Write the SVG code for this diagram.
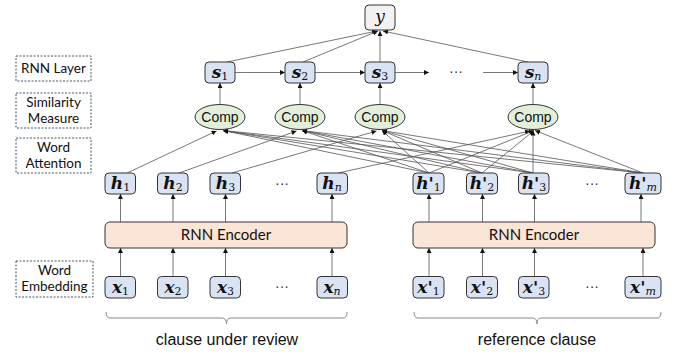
<svg xmlns="http://www.w3.org/2000/svg" width="678" height="354" viewBox="0 0 678 354">
  <defs>
    <marker id="ah" viewBox="0 0 6 6" refX="6" refY="3" markerWidth="5" markerHeight="5" markerUnits="userSpaceOnUse" orient="auto">
      <path d="M0,0 L6,3 L0,6 z" fill="#111"/>
    </marker>
    <style>
      .vec { fill: #dae3f3; stroke: #333; stroke-width: 1; }
      .out { fill: #f2f2f2; stroke: #333; stroke-width: 1; }
      .cmp { fill: #e2efd9; stroke: #333; stroke-width: 1; }
      .enc { fill: #fbe5d6; stroke: #333; stroke-width: 1; }
      .tag { fill: #fff; stroke: #44546a; stroke-width: 1; stroke-dasharray: 2 1.5; }
      .tagt { font-family: Lato, "Open Sans", sans-serif; font-size: 13.5px; fill: #111; text-anchor: middle; }
      .enct { font-family: Lato, "Open Sans", sans-serif; font-size: 15px; fill: #111; text-anchor: middle; }
      .cmpt { font-family: "Liberation Sans", Arial, sans-serif; font-size: 14px; fill: #111; text-anchor: middle; }
      .cap { font-family: "Liberation Sans", Arial, sans-serif; font-size: 16px; fill: #111; text-anchor: middle; }
      .m { font-family: "DejaVu Serif", "Liberation Serif", serif; font-size: 17px; font-weight: bold; font-style: italic; fill: #111; text-anchor: middle; }
      .sub { font-weight: normal; font-style: normal; font-size: 11px; }
      .subi { font-weight: normal; font-style: italic; font-size: 11px; }
      .dots { font-family: "Liberation Sans", Arial, sans-serif; font-size: 14px; fill: #333; text-anchor: middle; }
      .ln { stroke: #555; stroke-width: 0.8; fill: none; }
      .ar { stroke: #555; stroke-width: 0.8; fill: none; marker-end: url(#ah); }
      .br { stroke: #888; stroke-width: 1; fill: none; }
    </style>
  </defs>

  <!-- layer tags on the left -->
  <g id="tag-rnn-layer">
    <rect class="tag" x="16" y="56" width="75" height="25"/>
    <text class="tagt" x="53.5" y="73">RNN Layer</text>
  </g>
  <g id="tag-similarity">
    <rect class="tag" x="16" y="93" width="75" height="35"/>
    <text class="tagt" x="53.5" y="107">Similarity</text>
    <text class="tagt" x="53.5" y="123">Measure</text>
  </g>
  <g id="tag-attention">
    <rect class="tag" x="16" y="138" width="75" height="35"/>
    <text class="tagt" x="53.5" y="152">Word</text>
    <text class="tagt" x="53.5" y="168">Attention</text>
  </g>
  <g id="tag-embedding">
    <rect class="tag" x="16" y="261" width="77" height="36"/>
    <text class="tagt" x="54.5" y="275">Word</text>
    <text class="tagt" x="54.5" y="291">Embedding</text>
  </g>

  <!-- connectors -->
  <g id="connectors">
    <!-- states to output -->
    <line class="ar" x1="227" y1="62" x2="377" y2="31"/>
    <line class="ar" x1="303" y1="62" x2="378" y2="31"/>
    <line class="ar" x1="380" y1="62" x2="380" y2="31"/>
    <line class="ar" x1="528" y1="62" x2="383" y2="31"/>
    <!-- recurrent chain -->
    <line class="ar" x1="235" y1="72.5" x2="285" y2="72.5"/>
    <line class="ar" x1="315" y1="72.5" x2="365" y2="72.5"/>
    <line class="ar" x1="395" y1="72.5" x2="429" y2="72.5"/>
    <line class="ar" x1="483" y1="72.5" x2="518" y2="72.5"/>
    <!-- comparisons to states -->
    <line class="ar" x1="220" y1="104.5" x2="220" y2="83"/>
    <line class="ar" x1="300" y1="104.5" x2="300" y2="83"/>
    <line class="ar" x1="380" y1="104.5" x2="380" y2="83"/>
    <line class="ar" x1="533" y1="104.5" x2="533" y2="83"/>
    <!-- own hidden states to comparisons -->
    <line class="ar" x1="127" y1="173" x2="216.5" y2="131"/>
    <line class="ar" x1="179" y1="173" x2="296.5" y2="131"/>
    <line class="ar" x1="232" y1="173" x2="376.5" y2="131"/>
    <line class="ar" x1="338" y1="173" x2="530" y2="131"/>
    <!-- attention over reference states -->
    <line class="ar" x1="429" y1="173" x2="223" y2="130.5"/>
    <line class="ar" x1="482" y1="173" x2="223" y2="130.5"/>
    <line class="ar" x1="533" y1="173" x2="223" y2="130.5"/>
    <line class="ar" x1="643" y1="173" x2="223" y2="130.5"/>
    <line class="ar" x1="429" y1="173" x2="302" y2="130.5"/>
    <line class="ar" x1="482" y1="173" x2="302" y2="130.5"/>
    <line class="ar" x1="533" y1="173" x2="302" y2="130.5"/>
    <line class="ar" x1="643" y1="173" x2="302" y2="130.5"/>
    <line class="ar" x1="429" y1="173" x2="382" y2="130.5"/>
    <line class="ar" x1="482" y1="173" x2="382" y2="130.5"/>
    <line class="ar" x1="533" y1="173" x2="382" y2="130.5"/>
    <line class="ar" x1="643" y1="173" x2="382" y2="130.5"/>
    <line class="ar" x1="429" y1="173" x2="534" y2="130.5"/>
    <line class="ar" x1="482" y1="173" x2="534" y2="130.5"/>
    <line class="ar" x1="533" y1="173" x2="533" y2="130.5"/>
    <line class="ar" x1="643" y1="173" x2="535" y2="130.5"/>
    <!-- encoder to hidden states -->
    <line class="ar" x1="120.5" y1="222" x2="120.5" y2="194"/>
    <line class="ar" x1="173" y1="222" x2="173" y2="194"/>
    <line class="ar" x1="225.5" y1="222" x2="225.5" y2="194"/>
    <line class="ar" x1="332" y1="222" x2="332" y2="194"/>
    <line class="ar" x1="429" y1="222" x2="429" y2="194"/>
    <line class="ar" x1="482.5" y1="222" x2="482.5" y2="194"/>
    <line class="ar" x1="534.5" y1="222" x2="534.5" y2="194"/>
    <line class="ar" x1="641" y1="222" x2="641" y2="194"/>
    <!-- embeddings to encoder -->
    <line class="ar" x1="120.5" y1="276" x2="120.5" y2="248"/>
    <line class="ar" x1="173" y1="276" x2="173" y2="248"/>
    <line class="ar" x1="225.5" y1="276" x2="225.5" y2="248"/>
    <line class="ar" x1="332" y1="276" x2="332" y2="248"/>
    <line class="ar" x1="429" y1="276" x2="429" y2="248"/>
    <line class="ar" x1="482.5" y1="276" x2="482.5" y2="248"/>
    <line class="ar" x1="534.5" y1="276" x2="534.5" y2="248"/>
    <line class="ar" x1="643" y1="276" x2="643" y2="248"/>
  </g>

  <!-- output -->
  <g id="y">
    <rect class="out" x="365" y="5" width="30" height="25" rx="4"/>
    <text class="m" x="380" y="22" style="font-weight:normal">y</text>
  </g>

  <!-- RNN layer states -->
  <g id="s1">
    <rect class="vec" x="205" y="62" width="30" height="21" rx="4"/>
    <text class="m" x="220" y="78">s<tspan class="sub" dy="2">1</tspan></text>
  </g>
  <g id="s2">
    <rect class="vec" x="285" y="62" width="30" height="21" rx="4"/>
    <text class="m" x="300" y="78">s<tspan class="sub" dy="2">2</tspan></text>
  </g>
  <g id="s3">
    <rect class="vec" x="365" y="62" width="30" height="21" rx="4"/>
    <text class="m" x="380" y="78">s<tspan class="sub" dy="2">3</tspan></text>
  </g>
  <g id="s-dots"><text class="dots" x="456" y="76">···</text></g>
  <g id="sn">
    <rect class="vec" x="518" y="62" width="30" height="21" rx="4"/>
    <text class="m" x="533" y="78">s<tspan class="subi" dy="2">n</tspan></text>
  </g>

  <!-- comparison units -->
  <g id="comp1">
    <ellipse class="cmp" cx="220" cy="117" rx="25" ry="12.5"/>
    <text class="cmpt" x="220" y="122">Comp</text>
  </g>
  <g id="comp2">
    <ellipse class="cmp" cx="300" cy="117" rx="25" ry="12.5"/>
    <text class="cmpt" x="300" y="122">Comp</text>
  </g>
  <g id="comp3">
    <ellipse class="cmp" cx="380" cy="117" rx="25" ry="12.5"/>
    <text class="cmpt" x="380" y="122">Comp</text>
  </g>
  <g id="comp4">
    <ellipse class="cmp" cx="533" cy="117" rx="25" ry="12.5"/>
    <text class="cmpt" x="533" y="122">Comp</text>
  </g>

  <!-- hidden states, clause under review -->
  <g id="h1">
    <rect class="vec" x="105" y="173" width="30.5" height="21" rx="4"/>
    <text class="m" x="120.5" y="189">h<tspan class="sub" dy="2">1</tspan></text>
  </g>
  <g id="h2">
    <rect class="vec" x="157.5" y="173" width="30.5" height="21" rx="4"/>
    <text class="m" x="173" y="189">h<tspan class="sub" dy="2">2</tspan></text>
  </g>
  <g id="h3">
    <rect class="vec" x="210" y="173" width="30.5" height="21" rx="4"/>
    <text class="m" x="225.5" y="189">h<tspan class="sub" dy="2">3</tspan></text>
  </g>
  <g id="h-dots"><text class="dots" x="282" y="188">···</text></g>
  <g id="hn">
    <rect class="vec" x="317" y="173" width="30.5" height="21" rx="4"/>
    <text class="m" x="332" y="189">h<tspan class="subi" dy="2">n</tspan></text>
  </g>

  <!-- hidden states, reference clause -->
  <g id="hp1">
    <rect class="vec" x="413" y="173" width="31" height="21" rx="4"/>
    <text class="m" x="428.5" y="189">h'<tspan class="sub" dy="2">1</tspan></text>
  </g>
  <g id="hp2">
    <rect class="vec" x="466.5" y="173" width="31" height="21" rx="4"/>
    <text class="m" x="482" y="189">h'<tspan class="sub" dy="2">2</tspan></text>
  </g>
  <g id="hp3">
    <rect class="vec" x="518.5" y="173" width="30.5" height="21" rx="4"/>
    <text class="m" x="534" y="189">h'<tspan class="sub" dy="2">3</tspan></text>
  </g>
  <g id="hp-dots"><text class="dots" x="592" y="188">···</text></g>
  <g id="hpm">
    <rect class="vec" x="625" y="173" width="36" height="21" rx="4"/>
    <text class="m" x="643" y="189">h'<tspan class="subi" dy="2">m</tspan></text>
  </g>

  <!-- encoders -->
  <g id="encoder-left">
    <rect class="enc" x="105" y="222" width="242" height="26" rx="5"/>
    <text class="enct" x="226" y="240">RNN Encoder</text>
  </g>
  <g id="encoder-right">
    <rect class="enc" x="413" y="222" width="242" height="26" rx="5"/>
    <text class="enct" x="534" y="240">RNN Encoder</text>
  </g>

  <!-- word embeddings, clause under review -->
  <g id="x1">
    <rect class="vec" x="105" y="276.5" width="30.5" height="21.5" rx="4"/>
    <text class="m" x="120.5" y="292.5">x<tspan class="sub" dy="2">1</tspan></text>
  </g>
  <g id="x2">
    <rect class="vec" x="157.5" y="276.5" width="30.5" height="21.5" rx="4"/>
    <text class="m" x="173" y="292.5">x<tspan class="sub" dy="2">2</tspan></text>
  </g>
  <g id="x3">
    <rect class="vec" x="210" y="276.5" width="30.5" height="21.5" rx="4"/>
    <text class="m" x="225.5" y="292.5">x<tspan class="sub" dy="2">3</tspan></text>
  </g>
  <g id="x-dots"><text class="dots" x="282" y="291">···</text></g>
  <g id="xn">
    <rect class="vec" x="317" y="276.5" width="30.5" height="21.5" rx="4"/>
    <text class="m" x="332" y="292.5">x<tspan class="subi" dy="2">n</tspan></text>
  </g>

  <!-- word embeddings, reference clause -->
  <g id="xp1">
    <rect class="vec" x="413" y="276.5" width="31" height="21.5" rx="4"/>
    <text class="m" x="428.5" y="292.5">x'<tspan class="sub" dy="2">1</tspan></text>
  </g>
  <g id="xp2">
    <rect class="vec" x="466.5" y="276.5" width="31" height="21.5" rx="4"/>
    <text class="m" x="482" y="292.5">x'<tspan class="sub" dy="2">2</tspan></text>
  </g>
  <g id="xp3">
    <rect class="vec" x="518.5" y="276.5" width="30.5" height="21.5" rx="4"/>
    <text class="m" x="534" y="292.5">x'<tspan class="sub" dy="2">3</tspan></text>
  </g>
  <g id="xp-dots"><text class="dots" x="592" y="291">···</text></g>
  <g id="xpm">
    <rect class="vec" x="625" y="276.5" width="36" height="21.5" rx="4"/>
    <text class="m" x="643" y="292.5">x'<tspan class="subi" dy="2">m</tspan></text>
  </g>

  <!-- braces and captions -->
  <g id="brace-left">
    <path class="br" d="M106,312 Q106,318 110,318 L222,318 Q226.5,318 226.5,324 Q226.5,318 231,318 L343,318 Q347,318 347,312"/>
    <text class="cap" x="227" y="345">clause under review</text>
  </g>
  <g id="brace-right">
    <path class="br" d="M414,312 Q414,318 418,318 L532.5,318 Q537,318 537,324 Q537,318 541.5,318 L657,318 Q661,318 661,312"/>
    <text class="cap" x="537" y="345">reference clause</text>
  </g>
</svg>
